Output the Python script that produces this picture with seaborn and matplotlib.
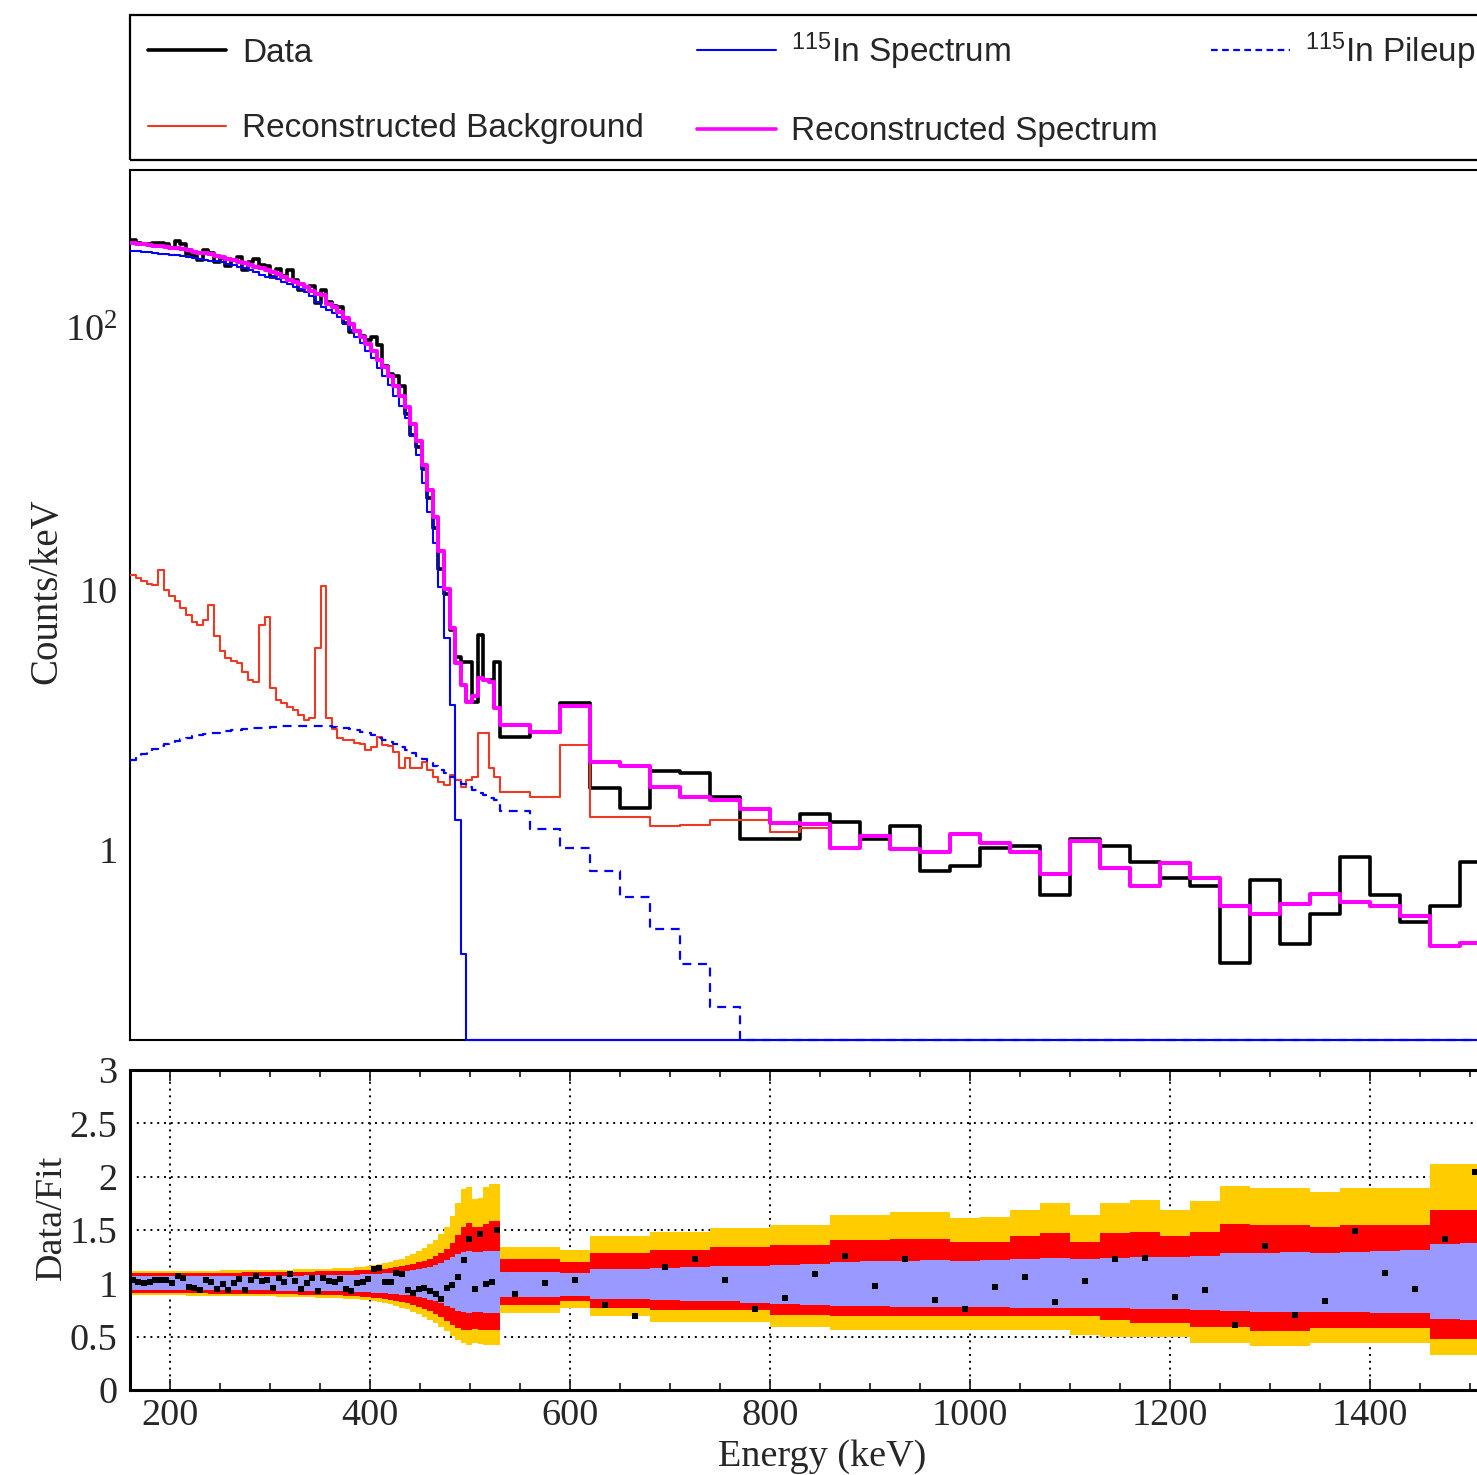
import numpy as np
import pandas as pd
import matplotlib
matplotlib.use("Agg")
import matplotlib.pyplot as plt
from matplotlib.lines import Line2D
from matplotlib.patches import Rectangle
from matplotlib.ticker import (FixedLocator, FixedFormatter, MultipleLocator,
                               FuncFormatter, NullFormatter, LogLocator)
import seaborn as sns

# ---------------------------------------------------------------- binning
E_MIN, E_SPLIT, E_MAX = 160.0, 530.0, 1520.0
N_FINE = 66          # fine bins below 530 keV
COARSE_WIDTH = 30.0  # keV, above 530 keV

# ---------------------------------------------------------------- spectra (counts/keV)
data_fine = [218.4, 213.1, 210.0, 211.1, 213.2, 213.2, 211.2, 204.0, 217.2, 211.1,
             193.0, 189.1, 183.3, 199.8, 194.9, 180.5, 186.1, 173.9, 183.0, 187.2,
             167.3, 180.3, 184.0, 174.4, 173.0, 157.4, 169.1, 158.6, 167.9, 154.0,
             140.6, 144.0, 146.0, 125.6, 140.7, 126.5, 122.2, 120.6, 104.5, 96.7,
             98.0, 93.9, 90.5, 92.7, 86.6, 71.7, 66.7, 66.0, 60.0, 47.0,
             39.1, 35.2, 28.8, 22.3, 17.1, 12.0, 9.6, 7.0, 5.5, 5.25,
             5.25, 3.69, 6.66, 4.47, 4.47, 5.25]
data_coarse = [2.71, 2.83, 3.66, 1.73, 1.45, 2.01, 1.97, 1.60, 1.10, 1.10, 1.37,
               1.28, 1.10, 1.24, 0.83, 0.87, 1.02, 1.04, 0.67, 1.10, 1.04, 0.90,
               0.78, 0.73, 0.37, 0.77, 0.435, 0.57, 0.94, 0.67, 0.53, 0.61, 0.90]

fit_fine = [212, 211, 210, 209, 207, 207, 205, 204, 203, 201,
            199, 197, 195, 194, 193, 190, 188, 185, 183, 180,
            178, 175, 172, 171, 168, 164, 161, 157, 154, 151,
            148, 144, 139, 135, 134, 124, 121, 116, 110, 104,
            98, 93, 87, 82, 76, 71, 66, 60, 55, 50,
            43, 37, 30, 24, 19, 14, 10, 7.1, 5.2, 4.3,
            3.7, 3.9, 4.55, 4.5, 4.4, 3.5]
fit_coarse = [3.01, 2.83, 3.56, 2.17, 2.10, 1.74, 1.60, 1.55, 1.44, 1.27, 1.26,
              1.02, 1.13, 1.01, 0.98, 1.15, 1.06, 0.98, 0.81, 1.08, 0.85, 0.73,
              0.89, 0.78, 0.61, 0.57, 0.62, 0.68, 0.63, 0.61, 0.56, 0.43, 0.44]

bkg_fine = [11.3, 11.0, 10.8, 10.5, 10.4, 11.9, 9.9, 9.4, 9.0, 8.5,
            8.0, 7.5, 7.3, 7.6, 8.7, 6.6, 5.8, 5.45, 5.3, 5.2,
            4.8, 4.5, 4.4, 7.3, 7.8, 4.2, 3.75, 3.65, 3.55, 3.45,
            3.3, 3.15, 3.2, 5.95, 10.3, 3.2, 2.9, 2.7, 2.64, 2.64,
            2.57, 2.55, 2.42, 2.48, 2.71, 2.52, 2.5, 2.37, 2.06, 2.25,
            2.06, 2.06, 2.17, 2.03, 1.9, 1.82, 1.77, 1.94, 1.85, 1.74,
            1.85, 1.9, 2.81, 2.81, 2.06, 1.9]
bkg_coarse = [1.67, 1.60, 2.52, 1.34, 1.34, 1.24, 1.25, 1.30, 1.30, 1.17, 1.22,
              1.02, 1.13, 1.01, 0.98, 1.15, 1.06, 0.98, 0.81, 1.08, 0.85, 0.73,
              0.89, 0.78, 0.61, 0.57, 0.62, 0.68, 0.63, 0.61, 0.56, 0.43, 0.44]

in115_fine = [198.5, 197.7, 196.9, 196.1, 194.2, 192.6, 192.6, 192.0, 191.4, 189.8,
              188.3, 186.8, 184.9, 183.6, 181.5, 180.6, 179.4, 176.7, 174.8, 171.9,
              170.3, 167.6, 164.7, 160.8, 157.3, 156.8, 154.3, 150.4, 147.5, 144.6,
              141.7, 137.9, 132.8, 126.1, 120.7, 117.8, 115.1, 110.4, 104.4, 98.5,
              92.6, 87.6, 81.8, 76.8, 70.6, 65.8, 60.9, 55.1, 50.5, 45.3,
              38.6, 32.6, 25.6, 19.8, 15.0, 10.2, 6.5, 3.6, 1.3, 0.4,
              0, 0, 0, 0, 0, 0]
in115_coarse = [0, 0, 0, 0, 0, 0, 0, 0, 0, 0, 0, 0, 0, 0, 0, 0, 0,
                0, 0, 0, 0, 0, 0, 0, 0, 0, 0, 0, 0, 0, 0, 0, 0]

pileup_fine = [2.22, 2.28, 2.33, 2.39, 2.45, 2.50, 2.54, 2.58, 2.62, 2.66,
               2.70, 2.73, 2.76, 2.78, 2.80, 2.82, 2.84, 2.86, 2.88, 2.89,
               2.91, 2.92, 2.93, 2.94, 2.95, 2.96, 2.97, 2.98, 2.98, 2.99,
               2.99, 3.00, 3.00, 2.99, 2.99, 2.98, 2.96, 2.95, 2.93, 2.90,
               2.88, 2.84, 2.80, 2.75, 2.70, 2.65, 2.60, 2.55, 2.49, 2.43,
               2.36, 2.30, 2.23, 2.16, 2.10, 2.03, 1.97, 1.91, 1.85, 1.79,
               1.74, 1.70, 1.66, 1.62, 1.59, 1.56]
pileup_coarse = [1.41, 1.20, 1.02, 0.83, 0.66, 0.50, 0.365, 0.25, 0, 0, 0,
                 0, 0, 0, 0, 0, 0, 0, 0, 0, 0, 0,
                 0, 0, 0, 0, 0, 0, 0, 0, 0, 0, 0]

# ---------------------------------------------------------------- Data/Fit uncertainty bands
band1_hi_fine = [1.065, 1.065, 1.065, 1.065, 1.065, 1.065, 1.065, 1.065, 1.065, 1.065,
                 1.065, 1.065, 1.066, 1.066, 1.066, 1.067, 1.067, 1.067, 1.068, 1.068,
                 1.068, 1.069, 1.069, 1.070, 1.070, 1.071, 1.071, 1.072, 1.072, 1.073,
                 1.073, 1.074, 1.075, 1.075, 1.076, 1.077, 1.078, 1.079, 1.080, 1.081,
                 1.082, 1.083, 1.085, 1.087, 1.090, 1.093, 1.097, 1.102, 1.108, 1.115,
                 1.123, 1.132, 1.143, 1.156, 1.172, 1.192, 1.215, 1.245, 1.275, 1.295,
                 1.300, 1.290, 1.290, 1.300, 1.300, 1.300]
band1_lo_fine = [0.938, 0.938, 0.938, 0.938, 0.938, 0.938, 0.938, 0.938, 0.938, 0.938,
                 0.938, 0.938, 0.937, 0.937, 0.937, 0.936, 0.936, 0.936, 0.935, 0.935,
                 0.935, 0.934, 0.934, 0.933, 0.933, 0.932, 0.932, 0.931, 0.931, 0.930,
                 0.930, 0.929, 0.928, 0.928, 0.927, 0.926, 0.925, 0.924, 0.923, 0.922,
                 0.920, 0.918, 0.916, 0.914, 0.911, 0.908, 0.904, 0.899, 0.893, 0.886,
                 0.878, 0.869, 0.858, 0.845, 0.830, 0.812, 0.790, 0.765, 0.745, 0.730,
                 0.725, 0.730, 0.730, 0.725, 0.720, 0.720]
band2_hi_fine = [1.095, 1.095, 1.095, 1.095, 1.095, 1.096, 1.096, 1.096, 1.097, 1.097,
                 1.097, 1.098, 1.098, 1.098, 1.099, 1.099, 1.100, 1.100, 1.101, 1.101,
                 1.102, 1.102, 1.103, 1.103, 1.104, 1.104, 1.105, 1.106, 1.106, 1.107,
                 1.108, 1.109, 1.110, 1.111, 1.112, 1.113, 1.114, 1.115, 1.117, 1.119,
                 1.121, 1.123, 1.126, 1.130, 1.134, 1.139, 1.145, 1.152, 1.160, 1.170,
                 1.182, 1.196, 1.212, 1.232, 1.256, 1.285, 1.320, 1.380, 1.450, 1.530,
                 1.570, 1.530, 1.530, 1.560, 1.580, 1.580]
band2_lo_fine = [0.908, 0.908, 0.908, 0.908, 0.908, 0.907, 0.907, 0.907, 0.906, 0.906,
                 0.906, 0.905, 0.905, 0.905, 0.904, 0.904, 0.903, 0.903, 0.902, 0.902,
                 0.901, 0.901, 0.900, 0.900, 0.899, 0.899, 0.898, 0.897, 0.897, 0.896,
                 0.895, 0.894, 0.893, 0.892, 0.891, 0.890, 0.888, 0.886, 0.884, 0.882,
                 0.879, 0.876, 0.872, 0.867, 0.861, 0.854, 0.846, 0.836, 0.825, 0.812,
                 0.797, 0.780, 0.760, 0.737, 0.711, 0.682, 0.650, 0.610, 0.580, 0.560,
                 0.560, 0.570, 0.560, 0.560, 0.560, 0.560]
band3_hi_fine = [1.115, 1.115, 1.115, 1.115, 1.116, 1.116, 1.116, 1.117, 1.117, 1.117,
                 1.118, 1.118, 1.119, 1.119, 1.120, 1.120, 1.121, 1.121, 1.122, 1.122,
                 1.123, 1.124, 1.124, 1.125, 1.126, 1.126, 1.127, 1.128, 1.129, 1.130,
                 1.131, 1.132, 1.133, 1.134, 1.136, 1.138, 1.140, 1.142, 1.144, 1.147,
                 1.150, 1.155, 1.160, 1.168, 1.177, 1.188, 1.200, 1.215, 1.232, 1.252,
                 1.275, 1.300, 1.330, 1.365, 1.410, 1.460, 1.530, 1.630, 1.750, 1.880,
                 1.900, 1.790, 1.800, 1.900, 1.930, 1.930]
band3_lo_fine = [0.888, 0.888, 0.888, 0.888, 0.887, 0.887, 0.887, 0.886, 0.886, 0.886,
                 0.885, 0.885, 0.884, 0.884, 0.883, 0.883, 0.882, 0.882, 0.881, 0.881,
                 0.880, 0.879, 0.879, 0.878, 0.877, 0.877, 0.876, 0.875, 0.874, 0.873,
                 0.872, 0.871, 0.869, 0.867, 0.865, 0.863, 0.861, 0.858, 0.855, 0.852,
                 0.850, 0.846, 0.840, 0.833, 0.825, 0.815, 0.803, 0.789, 0.773, 0.755,
                 0.735, 0.712, 0.686, 0.657, 0.625, 0.590, 0.550, 0.510, 0.470, 0.440,
                 0.420, 0.440, 0.430, 0.420, 0.420, 0.420]

band1_hi_coarse = [1.11, 1.11, 1.10, 1.13, 1.13, 1.14, 1.15, 1.16, 1.16, 1.17, 1.18,
                   1.20, 1.21, 1.21, 1.22, 1.21, 1.22, 1.23, 1.24, 1.23, 1.24, 1.25,
                   1.25, 1.26, 1.28, 1.28, 1.29, 1.28, 1.29, 1.30, 1.31, 1.37, 1.38]
band1_lo_coarse = [0.87, 0.87, 0.88, 0.85, 0.85, 0.84, 0.83, 0.83, 0.82, 0.81, 0.80,
                   0.79, 0.79, 0.78, 0.78, 0.78, 0.78, 0.77, 0.77, 0.77, 0.77, 0.76,
                   0.76, 0.75, 0.74, 0.73, 0.73, 0.73, 0.73, 0.72, 0.72, 0.67, 0.66]
band2_hi_coarse = [1.225, 1.225, 1.20, 1.28, 1.28, 1.31, 1.31, 1.34, 1.34, 1.36, 1.36,
                   1.41, 1.41, 1.42, 1.42, 1.39, 1.39, 1.44, 1.47, 1.39, 1.47, 1.48,
                   1.44, 1.48, 1.56, 1.55, 1.55, 1.53, 1.55, 1.55, 1.55, 1.69, 1.69]
band2_lo_coarse = [0.80, 0.80, 0.83, 0.77, 0.77, 0.75, 0.75, 0.75, 0.75, 0.70, 0.70,
                   0.69, 0.69, 0.69, 0.69, 0.69, 0.69, 0.69, 0.69, 0.69, 0.66, 0.625,
                   0.625, 0.59, 0.59, 0.55, 0.55, 0.58, 0.58, 0.58, 0.58, 0.48, 0.48]
band3_hi_coarse = [1.34, 1.34, 1.31, 1.44, 1.44, 1.48, 1.48, 1.52, 1.52, 1.55, 1.55,
                   1.64, 1.64, 1.67, 1.67, 1.61, 1.62, 1.69, 1.75, 1.64, 1.75, 1.78,
                   1.69, 1.77, 1.91, 1.89, 1.89, 1.86, 1.89, 1.89, 1.89, 2.12, 2.12]
band3_lo_coarse = [0.72, 0.72, 0.77, 0.69, 0.69, 0.64, 0.64, 0.64, 0.64, 0.59, 0.59,
                   0.56, 0.56, 0.56, 0.56, 0.56, 0.56, 0.56, 0.56, 0.52, 0.50, 0.50,
                   0.50, 0.44, 0.44, 0.41, 0.41, 0.44, 0.44, 0.44, 0.44, 0.33, 0.33]

energy_ticks = [200, 400, 600, 800, 1000, 1200, 1400]

legend_labels = ["Data", "Reconstructed Background", r"$\mathregular{^{115}}$In Spectrum",
                 "Reconstructed Spectrum", r"$\mathregular{^{115}}$In Pileup"]

# ---------------------------------------------------------------- assemble
edges = np.concatenate([np.linspace(E_MIN, E_SPLIT, N_FINE + 1),
                        np.arange(E_SPLIT + COARSE_WIDTH, E_MAX + 1, COARSE_WIDTH)])
centers = 0.5 * (edges[:-1] + edges[1:])

data = np.concatenate([data_fine, data_coarse])
fit = np.concatenate([fit_fine, fit_coarse])
bkg = np.concatenate([bkg_fine, bkg_coarse])
in115 = np.concatenate([in115_fine, in115_coarse])
pileup = np.concatenate([pileup_fine, pileup_coarse])
ratio = data / fit

band1 = (np.concatenate([band1_lo_fine, band1_lo_coarse]), np.concatenate([band1_hi_fine, band1_hi_coarse]))
band2 = (np.concatenate([band2_lo_fine, band2_lo_coarse]), np.concatenate([band2_hi_fine, band2_hi_coarse]))
band3 = (np.concatenate([band3_lo_fine, band3_lo_coarse]), np.concatenate([band3_hi_fine, band3_hi_coarse]))

# ---------------------------------------------------------------- style
sns.set_style("white")
plt.rcParams["font.family"] = ["Liberation Serif", "DejaVu Serif"]
plt.rcParams["axes.unicode_minus"] = False

W, H = 1477, 1475
fig = plt.figure(figsize=(W / 100, H / 100), dpi=100)
fig.patch.set_facecolor("white")

XMIN, XMAX = 160, 1507
YMIN, YMAX = 0.187, 405
SERIF = 27.5

ax = fig.add_axes([130 / W, 1 - 1040 / H, (W - 130) / W, (1040 - 170) / H])
axr = fig.add_axes([130 / W, 1 - 1390 / H, (W - 130) / W, (1390 - 1070) / H])

C_BKG = "#ee3a25"


def step_hist(axis, values, **kw):
    """Histogram outline: one horizontal step per bin, joined at the bin edges."""
    frame = pd.DataFrame({"edge": edges, "value": np.append(values, values[-1])})
    sns.lineplot(data=frame, x="edge", y="value", drawstyle="steps-post",
                 estimator=None, sort=False, legend=False, ax=axis, **kw)


# ---------------------------------------------------------------- spectrum panel
ax.set_yscale("log")
step_hist(ax, data, color="black", linewidth=2.6, zorder=3)
step_hist(ax, bkg, color=C_BKG, linewidth=1.5, zorder=3.1)
step_hist(ax, np.clip(pileup, YMIN, None), color="blue", linewidth=1.6,
          linestyle=(0, (4, 3)), zorder=3.2, clip_on=False)
step_hist(ax, np.clip(in115, YMIN, None), color="blue", linewidth=1.5, zorder=3.3, clip_on=False)
step_hist(ax, fit, color="#ff00ff", linewidth=2.9, zorder=3.4)

ax.set_xlim(XMIN, XMAX)
ax.set_ylim(YMIN, YMAX)
ax.set_xlabel("")
ax.set_ylabel("Counts/keV", fontsize=28)
ax.yaxis.set_label_coords(-0.048, 0.516)

ax.yaxis.set_major_locator(FixedLocator([1, 10, 100]))
ax.yaxis.set_major_formatter(FixedFormatter(["1", "10", r"$\mathregular{10^{2}}$"]))
ax.yaxis.set_minor_locator(LogLocator(base=10, subs=np.arange(2, 10), numticks=20))
ax.yaxis.set_minor_formatter(NullFormatter())
ax.xaxis.set_major_locator(FixedLocator(energy_ticks))
ax.xaxis.set_minor_locator(MultipleLocator(50))
ax.tick_params(axis="y", which="major", direction="in", length=32, width=1.3,
               labelsize=SERIF, pad=9)
ax.tick_params(axis="y", which="minor", direction="in", length=16, width=1.3)
ax.tick_params(axis="x", which="major", direction="in", length=21, width=1.3,
               labelbottom=False)
ax.tick_params(axis="x", which="minor", direction="in", length=11, width=1.3)
for side in ("left", "bottom", "top"):
    ax.spines[side].set_linewidth(1.5)
    ax.spines[side].set_color("black")
ax.spines["right"].set_visible(False)

# ---------------------------------------------------------------- ratio panel
axr.set_axisbelow(True)
axr.grid(True, which="major", color="black", linestyle=(0, (1, 2.5)), linewidth=1.4)
axr.stairs(band3[1], edges, baseline=band3[0], fill=True, color="#ffcc00", linewidth=0, zorder=1)
axr.stairs(band2[1], edges, baseline=band2[0], fill=True, color="#ff0000", linewidth=0, zorder=1.1)
axr.stairs(band1[1], edges, baseline=band1[0], fill=True, color="#9999ff", linewidth=0, zorder=1.2)
sns.scatterplot(x=centers, y=ratio, marker="s", s=14, color="black", linewidth=0,
                ax=axr, zorder=4, legend=False)

axr.set_xlim(XMIN, XMAX)
axr.set_ylim(0, 3)
axr.set_xlabel("Energy (keV)", fontsize=SERIF)
axr.xaxis.set_label_coords(0.514, -0.155)
axr.set_ylabel("Data/Fit", fontsize=SERIF)
axr.yaxis.set_label_coords(-0.045, 0.54)

axr.xaxis.set_major_locator(FixedLocator(energy_ticks))
axr.xaxis.set_minor_locator(MultipleLocator(50))
axr.yaxis.set_major_locator(MultipleLocator(0.5))
axr.yaxis.set_minor_locator(MultipleLocator(0.1))
axr.yaxis.set_major_formatter(FuncFormatter(lambda v, _: f"{v:g}"))
axr.tick_params(axis="y", which="major", direction="in", length=25, width=1.3,
                labelsize=SERIF, pad=9)
axr.tick_params(axis="y", which="minor", direction="in", length=13, width=1.3)
axr.tick_params(axis="x", which="major", direction="in", length=8, width=1.3,
                top=True, bottom=True, labelsize=SERIF, pad=6)
axr.tick_params(axis="x", which="minor", direction="in", length=5, width=1.3,
                top=True, bottom=True)
for side in ("left", "bottom", "top"):
    axr.spines[side].set_linewidth(2.2)
    axr.spines[side].set_color("black")
axr.spines["right"].set_visible(False)

# ---------------------------------------------------------------- legend
handles = [
    Line2D([], [], color="black", linewidth=2.6),
    Line2D([], [], color=C_BKG, linewidth=1.5),
    Line2D([], [], color="blue", linewidth=1.5),
    Line2D([], [], color="#ff00ff", linewidth=2.6),
    Line2D([], [], color="blue", linewidth=1.6, linestyle=(0, (3, 2))),
]
fig.legend(handles, legend_labels, loc="upper left", bbox_to_anchor=(148 / W, 1 - 30 / H),
           ncol=3, frameon=False, borderpad=0, borderaxespad=0, handlelength=2.35,
           handletextpad=0.47, columnspacing=1.6, labelspacing=1.34,
           prop={"family": "Liberation Sans", "size": 24})
fig.add_artist(Rectangle((130 / W, 1 - 160 / H), 1400 / W, 145 / H,
                         transform=fig.transFigure, fill=False, linewidth=1.6,
                         edgecolor="black", clip_on=False))

fig.savefig("out.png", dpi=100, facecolor="white")
